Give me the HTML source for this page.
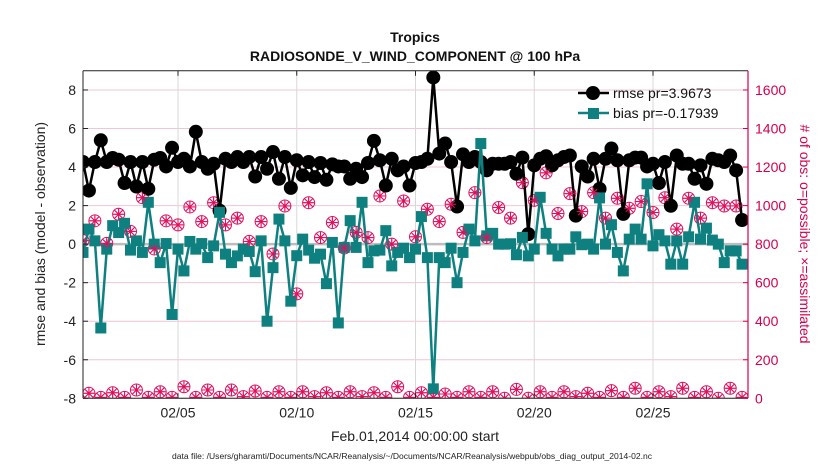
<!DOCTYPE html>
<html><head><meta charset="utf-8"><style>
body{margin:0;background:#fff;}
svg{display:block;font-family:"Liberation Sans",sans-serif;}
</style></head><body>
<svg id="chart" width="830" height="470" viewBox="0 0 830 470" xmlns="http://www.w3.org/2000/svg">
<text x="415" y="42" text-anchor="middle" font-size="14" font-weight="bold" fill="#111">Tropics</text>
<text x="415" y="61" text-anchor="middle" font-size="14" font-weight="bold" fill="#111">RADIOSONDE_V_WIND_COMPONENT @ 100 hPa</text>
<g id="grid"></g>
<g id="marks"></g>
<g id="axes"></g>
<text x="415" y="441" text-anchor="middle" font-size="14" fill="#222">Feb.01,2014 00:00:00 start</text>
<text transform="translate(45,234) rotate(-90)" text-anchor="middle" font-size="14" fill="#222">rmse and bias (model - observation)</text>
<text transform="translate(800,234) rotate(90)" text-anchor="middle" font-size="14" fill="#d4004f"># of obs: o=possible; ×=assimilated</text>
<text x="412" y="459" text-anchor="middle" font-size="8.6" fill="#222" textLength="480" lengthAdjust="spacingAndGlyphs">data file: /Users/gharamti/Documents/NCAR/Reanalysis/~/Documents/NCAR/Reanalysis/webpub/obs_diag_output_2014-02.nc</text>
<g id="legend">
  <line x1="578" y1="93" x2="609" y2="93" stroke="#000" stroke-width="2.5"/>
  <circle cx="593" cy="93" r="7" fill="#000"/>
  <text x="613" y="98" font-size="14" fill="#111">rmse pr=3.9673</text>
  <line x1="578" y1="113" x2="609" y2="113" stroke="#0f8080" stroke-width="2.5"/>
  <rect x="588" y="108" width="11" height="11" fill="#0f8080"/>
  <text x="613" y="118" font-size="14" fill="#111">bias pr=-0.17939</text>
</g>
</svg>
<script>
const rmse=[4.26,2.78,4.26,5.39,4.26,4.47,4.38,3.17,4.26,2.99,4.26,2.87,4.38,4.47,4.03,5.0,4.26,4.43,4.03,5.83,4.26,3.91,4.17,1.74,4.43,4.26,4.52,4.26,4.52,3.51,4.52,3.91,4.78,3.39,4.52,2.92,4.35,3.57,4.26,3.48,4.21,3.34,4.14,4.03,4.03,3.39,3.91,3.48,4.21,5.36,4.35,3.04,4.43,3.83,4.03,3.04,4.21,4.26,4.43,8.65,4.7,5.22,4.26,1.95,4.66,4.26,4.52,4.26,3.83,4.17,4.17,4.17,4.26,3.65,4.49,0.52,4.09,4.43,4.56,4.09,4.35,4.52,4.6,1.48,4.03,3.51,4.43,2.87,4.43,4.96,4.35,1.57,4.35,4.49,4.49,4.03,4.17,3.17,4.26,1.99,4.6,4.17,4.17,3.39,4.09,3.13,4.43,4.35,4.26,4.6,3.83,1.25];
const bias=[-0.43,0.78,0.17,-4.35,-0.26,0.96,0.6,1.08,-0.31,0.17,-0.43,2.17,0,-0.96,0.03,-3.65,-0.26,-1.39,0.14,-0.26,0.03,-0.7,-0.09,1.65,-0.52,-0.96,-0.61,-0.26,-0.38,-1.43,0.17,-4.0,-1.22,1.3,0.17,-2.96,-0.6,0.26,-0.31,-0.73,-0.52,-2.05,0.09,-4.09,-0.17,1.22,-0.17,2.17,-0.96,-0.35,-0.31,0.7,-1.13,-0.43,-0.21,-0.7,-0.26,1.43,-0.7,-7.51,-0.7,-0.96,-0.21,-2.0,-0.43,0.78,0.17,5.22,0.43,0.56,0,0,0.02,-0.55,0.35,-0.61,-0.26,2.43,0.56,-0.26,-0.61,-0.26,-0.26,0.38,-0.03,0,-0.26,2.4,0,1.01,-0.43,-1.39,0.26,0.78,0.26,3.13,-0.09,0.49,0.17,-1.04,0.17,-1.04,0.38,2.17,0.26,0.83,0.21,0,-0.96,-0.35,-0.35,-1.04];
const obsPossible=[818,26,921,5,804,29,955,5,866,43,1041,5,775,34,921,5,900,60,993,5,917,43,1015,5,900,43,935,9,814,38,917,5,749,34,998,5,542,34,1015,9,834,29,912,5,780,34,861,9,834,29,1050,5,800,60,1024,5,838,29,981,5,917,22,1007,5,861,34,1067,5,834,34,990,0,935,46,1119,0,1027,34,1170,5,959,34,1062,9,969,26,1067,5,935,40,1038,5,986,52,1021,5,964,34,1041,9,878,52,1038,5,935,34,1015,0,998,52,998,5];
const obsAssim=obsPossible.slice();
const yTicks=[-8,-6,-4,-2,0,2,4,6,8];
const y2Ticks=[0,200,400,600,800,1000,1200,1400,1600];
const xTickDays=[5,10,15,20,25];
const xTickLabels=["02/05","02/10","02/15","02/20","02/25"];

const NS="http://www.w3.org/2000/svg";
const L=83,R=748,T=70.7,B=398.3;
const xMin=1,xMax=29,yMin=-8,yMax=9,y2Min=0,y2Max=1700;
const xs=d=>L+(d-xMin)/(xMax-xMin)*(R-L);
const ys=v=>B-(v-yMin)/(yMax-yMin)*(B-T);
const ys2=v=>B-(v-y2Min)/(y2Max-y2Min)*(B-T);
const dayOf=i=>1+i*0.25;
function mk(tag,attrs,parent){const e=document.createElementNS(NS,tag);for(const k in attrs)e.setAttribute(k,attrs[k]);parent.appendChild(e);return e;}
const grid=document.getElementById('grid'),marks=document.getElementById('marks'),axes=document.getElementById('axes');

yTicks.forEach(v=>{const g=mk('line',{x1:L,x2:R,y1:ys(v),y2:ys(v),stroke:'#f3c4d6','stroke-width':1},grid);

});
xTickDays.forEach(d=>{const g=mk('line',{x1:xs(d),x2:xs(d),y1:T,y2:B,stroke:'#d8d8d8','stroke-width':1},grid);

});
const zl=mk('line',{x1:L,x2:R,y1:ys(0),y2:ys(0),stroke:'#bdbdbd','stroke-width':2.5},grid);



const defs=mk('defs',{},marks);const cp=mk('clipPath',{id:'clip'},defs);mk('rect',{x:L,y:T,width:R-L,height:B-T},cp);
const mg=mk('g',{'clip-path':'url(#clip)'},marks);

function obsMarker(x,y,name){const g=mk('g',{},mg);


mk('circle',{cx:x,cy:y,r:6,fill:'none',stroke:'#e0105e','stroke-width':1},g);
for(let a=0;a<4;a++){const t=a*Math.PI/4;mk('line',{x1:x-6*Math.cos(t),y1:y-6*Math.sin(t),x2:x+6*Math.cos(t),y2:y+6*Math.sin(t),stroke:'#e0105e','stroke-width':1},g);}
}
obsPossible.forEach((v,i)=>obsMarker(xs(dayOf(i)),ys2(v),'obs-possible-marker'));

const rp=rmse.map((v,i)=>xs(dayOf(i)).toFixed(1)+','+ys(v).toFixed(1)).join(' ');
const rl=mk('polyline',{points:rp,fill:'none',stroke:'#000','stroke-width':2.5},mg);


rmse.forEach((v,i)=>{const c=mk('circle',{cx:xs(dayOf(i)),cy:ys(v),r:7,fill:'#000'},mg);

});

const bp=bias.map((v,i)=>xs(dayOf(i)).toFixed(1)+','+ys(v).toFixed(1)).join(' ');
const bl=mk('polyline',{points:bp,fill:'none',stroke:'#0f8080','stroke-width':2.5},mg);


bias.forEach((v,i)=>{const r=mk('rect',{x:xs(dayOf(i))-5.5,y:ys(v)-5.5,width:11,height:11,fill:'#0f8080'},mg);

});

obsAssim.forEach((v,i)=>{const x=xs(dayOf(i)),y=ys2(v);const g=mk('g',{},mg);


for(let a=0;a<4;a++){const t=a*Math.PI/4;mk('line',{x1:x-5*Math.cos(t),y1:y-5*Math.sin(t),x2:x+5*Math.cos(t),y2:y+5*Math.sin(t),stroke:'#e0105e','stroke-width':1},g);}
});

mk('line',{x1:L,x2:R,y1:T,y2:T,stroke:'#222','stroke-width':1},axes);
mk('line',{x1:L,x2:R,y1:B,y2:B,stroke:'#222','stroke-width':1},axes);
mk('line',{x1:L,x2:L,y1:T,y2:B,stroke:'#222','stroke-width':1},axes);
mk('line',{x1:R,x2:R,y1:T,y2:B,stroke:'#d4004f','stroke-width':1.2},axes);
yTicks.forEach(v=>{mk('line',{x1:L,x2:L+5,y1:ys(v),y2:ys(v),stroke:'#222'},axes);
const t=mk('text',{x:L-7,y:ys(v)+5,'text-anchor':'end','font-size':14,fill:'#222'},axes);t.textContent=v;

});
y2Ticks.forEach(v=>{mk('line',{x1:R-5,x2:R,y1:ys2(v),y2:ys2(v),stroke:'#d4004f'},axes);
const t=mk('text',{x:R+7,y:ys2(v)+5,'font-size':14,fill:'#d4004f'},axes);t.textContent=v;

});
xTickDays.forEach((d,k)=>{mk('line',{x1:xs(d),x2:xs(d),y1:B,y2:B-5,stroke:'#222'},axes);mk('line',{x1:xs(d),x2:xs(d),y1:T,y2:T+5,stroke:'#222'},axes);
const t=mk('text',{x:xs(d),y:B+19,'text-anchor':'middle','font-size':14,fill:'#222'},axes);t.textContent=xTickLabels[k];

});
</script>
</body></html>
